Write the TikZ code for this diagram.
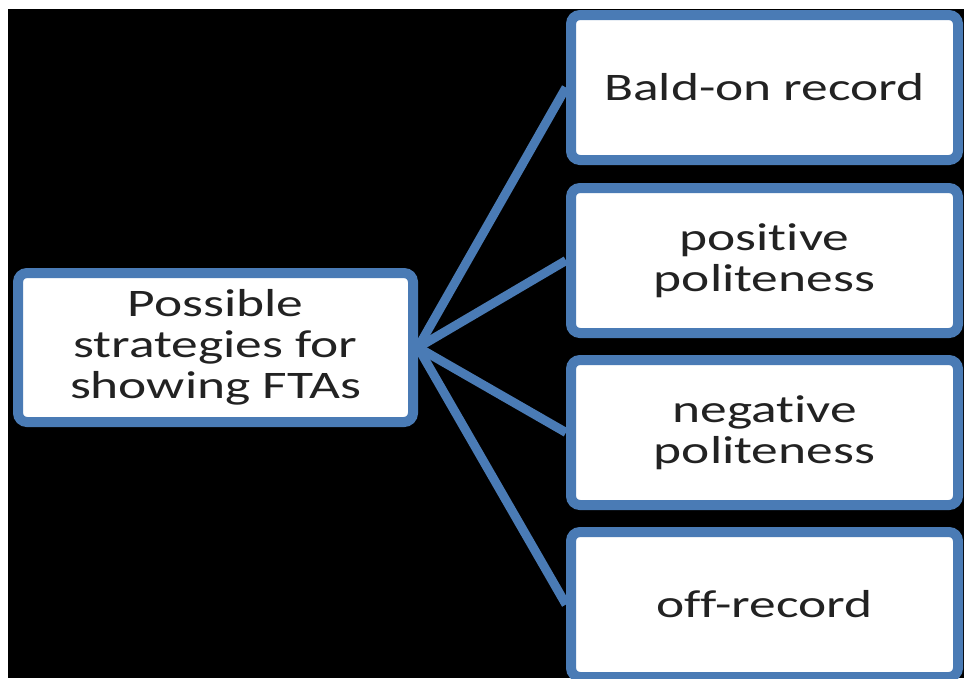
\documentclass[tikz,border=0pt]{standalone}
\usepackage{fontspec}
\setmainfont{Carlito}[FakeStretch=1.37, Ligatures=NoCommon]
\usepackage{xcolor}
\definecolor{smartblue}{HTML}{4A7BB5}
\definecolor{inkgray}{HTML}{222222}
\usepackage{tikz}

\tikzset{
  stratbox/.style={draw=smartblue, line width=10pt, fill=white, rounded corners=9pt,
    align=center, text=inkgray, font=\fontsize{39}{41}\selectfont, inner sep=0pt},
  rootbox/.style={stratbox, minimum width=395pt, minimum height=149pt},
  leafbox/.style={stratbox, minimum width=387pt, minimum height=145pt},
  link/.style={draw=smartblue, line width=9pt}
}

\begin{document}
\begin{tikzpicture}[x=1pt,y=-1pt]
                    \useasboundingbox (0,0) rectangle (964,678);
                    % black backdrop
                    \fill[black] (8,9) rectangle (964,678);

                    % Root
                    \node[rootbox] (fta) at (215.5,347.5) {Possible\\strategies for\\showing FTAs};

                    % Strategies
                    \node[leafbox] (bald) at (764.5,87.5) {Bald-on record};
                    \node[leafbox] (pos) at (764.5,260.5) {positive\\politeness};
                    \node[leafbox] (neg) at (764.5,432.5) {negative\\politeness};
                    \node[leafbox] (off) at (764.5,604.5) {off-record};

                    % Connectors
                    \foreach \leaf in {bald,pos,neg,off} {
                        \draw[link] (fta.east) -- (\leaf.west);
                    }
                \end{tikzpicture}
\end{document}
